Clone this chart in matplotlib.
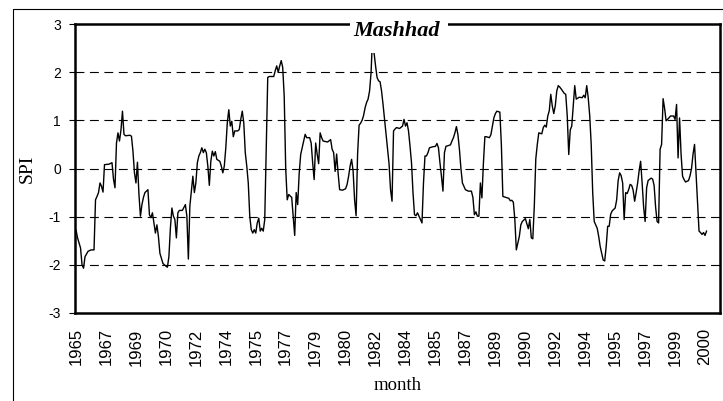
import matplotlib
matplotlib.use("Agg")
import matplotlib.pyplot as plt
from matplotlib.patches import Rectangle
from matplotlib.lines import Line2D

# month index (0 = first month of 1965) and SPI value
months = [0, 1, 3, 4, 5, 6, 8, 10, 12, 13, 14, 15, 16, 17, 18, 19, 22, 24, 25, 26,
          27, 28, 29, 30, 31, 32, 33, 36, 37, 38, 39, 40, 41, 42, 43, 44, 45, 46, 48, 49,
          50, 51, 52, 53, 54, 55, 56, 58, 59, 61, 62, 63, 64, 65, 66, 67, 68, 69,
          71, 73, 74, 75, 76, 77, 78, 79, 80, 81, 82, 83, 84, 85, 86, 87, 88, 89, 90, 91,
          92, 93, 94, 96, 97, 98, 99, 100, 101, 102, 103, 104, 105, 106, 108, 109, 110,
          111, 112, 113, 114, 115, 116, 117, 118, 119, 120, 121, 122, 123, 124, 125, 126,
          127, 128, 129, 132, 133, 134, 135, 136, 137, 138, 139, 140,
          141, 142, 143, 144, 145, 146, 147, 148, 149, 150, 151, 152, 153, 154, 156, 157,
          158, 159, 160, 161, 162, 163, 164, 165, 168, 170, 171, 172, 173, 174, 175, 176,
          178, 180, 181, 182, 183, 184, 185, 186, 187, 188, 189, 190, 191, 192, 193, 194,
          195, 196, 197, 198, 199, 200, 201, 202, 203, 204, 205, 206, 207, 208, 209, 210,
          211, 212,
          213, 214, 216, 218, 219, 220, 221, 222, 223, 224, 225, 226, 227, 228, 229, 230,
          231, 232, 233, 234, 235, 236, 238, 240, 241, 242, 243, 244, 245, 246, 247, 250,
          251, 252, 253, 254, 255, 256, 257, 258, 259, 260, 262, 264, 265, 266, 267, 268,
          269, 270, 271, 272, 273, 274, 276, 277, 278, 279, 280, 281, 283,
          284, 285, 287, 289, 290, 291, 292, 293, 294, 295, 296, 297, 298, 300, 302, 303,
          304, 305, 306, 307, 308, 309, 311, 312, 313, 314, 315, 316, 317, 318, 319, 320,
          321, 322, 323, 324, 326, 327, 328, 329, 330, 331, 332, 333, 334, 336, 338, 339,
          340, 341, 342, 343, 344, 345, 346, 347, 348, 349, 350, 351, 352, 353,
          354, 355, 356, 357, 358, 360, 361, 362, 363, 364, 365, 366, 367, 368, 369, 370,
          371, 372, 373, 374, 375, 376, 377, 378, 379, 380, 381, 382, 384, 385, 386, 387,
          388, 389, 390, 391, 392, 393, 394, 395, 397, 399, 400, 401, 402, 403, 404, 405,
          406, 407, 409, 410, 411, 412, 413, 414, 415, 416, 417, 418, 419, 420, 421]

spi = [-1.28, -1.44, -1.65, -2.0, -2.07, -1.83, -1.72, -1.69, -1.69, -0.65, -0.58, -0.5,
       -0.3, -0.37, -0.49, 0.08, 0.09, 0.12, -0.22, -0.4,
       0.53, 0.74, 0.57, 0.8, 1.19, 0.71, 0.68, 0.69, 0.67, 0.36, -0.09, -0.3, 0.13, -0.54,
       -0.99, -0.75, -0.6, -0.5, -0.44, -0.96,
       -1.02, -0.92, -1.13, -1.34, -1.17, -1.41, -1.76, -1.97, -2.0, -2.05, -1.83, -1.24,
       -0.82, -0.99, -1.06, -1.44, -0.92, -0.87,
       -0.87, -0.75, -0.99, -1.88, -0.78, -0.47, -0.16, -0.5, -0.3, 0.12, 0.26, 0.33, 0.43,
       0.33, 0.4, 0.33, 0.05, -0.35, 0.15, 0.36,
       0.26, 0.35, 0.19, 0.15, 0.05, -0.09, 0.05, 0.43, 0.95, 1.22, 0.88, 0.98, 0.66, 0.78,
       0.78, 0.81, 1.02,
       1.19, 0.95, 0.33, 0.05, -0.3, -0.99, -1.27, -1.34, -1.27, -1.34, -1.13, -1.03, -1.3,
       -1.24, -1.3, -1.06,
       0.47, 1.89, 1.91, 1.91, 2.03, 2.13, 2.0, 2.13, 2.24, 2.1, 1.5, 0.0,
       -0.65, -0.54, -0.57, -0.6, -1.0, -1.39, -0.5, -0.75, -0.1, 0.29, 0.43, 0.57, 0.71,
       0.64, 0.64, 0.53,
       0.12, -0.23, 0.53, 0.3, 0.1, 0.74, 0.64, 0.57, 0.55, 0.6, 0.4, 0.33, -0.06, 0.3,
       -0.1, -0.44,
       -0.45, -0.42, -0.33, -0.16, 0.05, 0.19, -0.05, -0.65, -0.98, 0.3, 0.9, 0.94, 1.0,
       1.1, 1.26, 1.37,
       1.44, 1.61, 1.99, 2.75, 2.4, 2.13, 1.89, 1.82, 1.8, 1.61, 1.33, 1.02, 0.71, 0.4,
       0.1, -0.44,
       -0.68, 0.78,
       0.82, 0.85, 0.83, 0.88, 1.02, 0.88, 0.95, 0.78, 0.47, 0.12, -0.5, -0.96, -0.98,
       -0.92, -0.99, -1.06,
       -1.13, -0.3, 0.26, 0.26, 0.33, 0.43, 0.45, 0.46, 0.52, 0.43, 0.12, -0.16, -0.47,
       0.33, 0.46, 0.49,
       0.57, 0.64, 0.74, 0.87, 0.7, 0.4, 0.0, -0.3, -0.37, -0.44, -0.47, -0.47, -0.6,
       -0.96, -0.9, -0.99,
       -0.99, -0.3, -0.61, 0.1, 0.66, 0.66, 0.64, 0.7, 0.88, 1.05, 1.14, 1.19, 1.17,
       0.5, -0.58, -0.6, -0.62, -0.67, -0.66, -0.7, -1.06, -1.69, -1.55, -1.41, -1.17,
       -1.1, -1.04, -1.25, -1.06,
       -1.44, -1.46, -0.78, 0.2, 0.5, 0.74, 0.72, 0.85, 0.9, 0.86, 1.09, 1.2, 1.54, 1.3,
       1.14, 1.3,
       1.61, 1.72, 1.69, 1.65, 1.56, 1.54, 1.09, 0.29, 0.8, 0.88, 1.3, 1.72, 1.44, 1.48,
       1.47, 1.52,
       1.47, 1.72, 1.47, 1.1, 0.5, -0.5, -1.1, -1.17, -1.24, -1.41, -1.62, -1.76, -1.9,
       -1.92,
       -1.62, -1.2, -1.2, -0.95, -0.88, -0.82, -0.65, -0.25, -0.09, -0.15, -0.3, -1.06,
       -0.5, -0.52, -0.44, -0.33,
       -0.35, -0.45, -0.68, -0.5, -0.3, -0.05, 0.15, -0.3, -0.8, -1.1, -0.4, -0.25, -0.2,
       -0.22, -0.35, -0.8,
       -1.1, -1.13, 0.4, 0.5, 1.45, 1.25, 0.99, 1.02, 1.09, 1.09, 1.02, 1.33, 0.22, 1.05,
       0.3, -0.16,
       -0.23, -0.28, -0.25, -0.15, 0.0, 0.3, 0.5, -0.1, -0.7, -1.3, -1.33, -1.37, -1.33,
       -1.39, -1.3]

tick_labels = ["1965", "1967", "1969", "1970", "1972", "1974", "1975", "1977", "1979",
               "1980", "1982", "1984", "1985", "1987", "1989", "1990", "1992", "1994",
               "1995", "1997", "1999", "2000"]
tick_step = 20          # months between labelled ticks
y_ticks = [-3, -2, -1, 0, 1, 2, 3]
grid_levels = [-2, -1, 0, 1, 2]

W, H = 723, 401
fig = plt.figure(figsize=(W / 100, H / 100), dpi=100)
ax = fig.add_axes([75 / W, 1 - 313 / H, 645 / W, 289 / H])

for g in grid_levels:
    ax.axhline(g, color="black", lw=0.8, ls=(0, (8, 5)), zorder=1)

ax.plot(months, spi, color="black", lw=1.0, zorder=2)

ax.set_ylim(-3, 3)
ax.set_xlim(-0.7, 430)
ax.set_yticks(y_ticks)
ax.set_yticklabels([str(v) for v in y_ticks], fontfamily="Liberation Sans", fontsize=10)
ax.set_xticks([i * tick_step for i in range(len(tick_labels))])
ax.set_xticklabels(tick_labels, rotation=90, fontfamily="Liberation Sans", fontsize=12)
ax.tick_params(axis="x", length=0, pad=11)
ax.tick_params(axis="y", length=4, width=0.8, pad=6)

for s in ax.spines.values():
    s.set_linewidth(1.8)

ax.set_ylabel("SPI", fontfamily="Liberation Serif", fontsize=14)
ax.yaxis.set_label_coords(-0.061, 0.5)
ax.set_xlabel("month", fontfamily="Liberation Serif", fontsize=13.5)
ax.xaxis.set_label_coords(0.5, -0.222)

# white box behind the title (hides the top of the 1982 peak like the original)
fig.add_artist(Rectangle((350 / W, 1 - 53 / H), 98 / W, 35 / H, transform=fig.transFigure,
                         facecolor="white", edgecolor="none", zorder=5))
fig.text(397 / W, 1 - 31 / H, "Mashhad", ha="center", va="center",
         fontfamily="Liberation Serif", fontweight="bold", fontstyle="italic",
         fontsize=16, zorder=6)

# outer chart frame (partly cut off in the original)
fig.add_artist(Line2D([12.5 / W, 12.5 / W, 1], [0, 1 - 9 / H, 1 - 9 / H],
                      transform=fig.transFigure, color="black", lw=0.8))

fig.savefig("out.png", dpi=100)
